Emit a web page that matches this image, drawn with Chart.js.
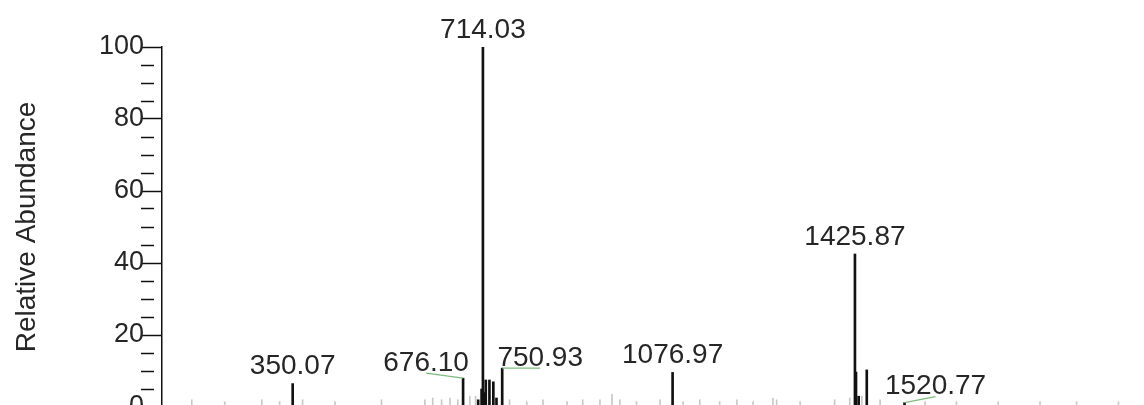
<!DOCTYPE html>
<html>
<head>
<meta charset="utf-8">
<script src="https://cdn.jsdelivr.net/npm/chart.js@4/dist/chart.umd.min.js"></script>
<style>
  html, body { margin: 0; padding: 0; background: #fff; overflow: hidden; width: 1144px; height: 405px; }
  canvas { display: block; }
</style>
</head>
<body>
<canvas id="spectrum" width="1160" height="440"></canvas>
<script>
// Resolved peaks: m/z and relative abundance (%)
const peakMz = [350.07, 676.10, 705.0, 711.5, 714.03, 716.0, 719.5, 726.5, 734.0, 740.0, 750.93,
                1076.97, 1425.87, 1427.9, 1433.0, 1448.5, 1520.77];
const peakAbundance = [6.5, 8.0, 2.0, 5.0, 100, 4.0, 7.5, 7.5, 7.0, 2.5, 10.8,
                       9.6, 42.5, 9.7, 3.0, 10.3, 1.2];

// Low-level baseline signal
const noiseMz = [157, 220, 291, 325, 369, 431, 520, 603, 618, 635, 651, 666, 689, 700, 765, 798,
                 829, 875, 905, 938, 961, 976, 1008, 1053, 1097, 1129, 1167, 1200, 1231, 1269,
                 1276, 1321, 1387, 1416, 1439, 1474, 1560, 1620, 1700, 1780, 1850, 1930];
const noiseAbundance = [2, 1.5, 2, 1.5, 2, 1.5, 2, 2, 2.5, 2, 2.5, 2, 3, 3, 2, 1.5,
                        2, 1.5, 2, 2, 3.5, 2, 1.5, 2, 1.5, 2, 1.5, 2, 1.5, 2.5,
                        2, 1.5, 2, 2.5, 3, 2, 1.5, 1.5, 1.5, 1.5, 1.5, 1.5];

// Peaks annotated with their m/z
const labelledMz = [350.07, 676.10, 714.03, 750.93, 1076.97, 1425.87, 1520.77];

// Labelled y-axis values (minor ticks every 5 %)
const yTicks = [0, 20, 40, 60, 80, 100];

// Label placement relative to the default spot above the peak tip
const labelPlacement = {
  '676.10':  { dx: -37, dy: 2, leader: true },
  '750.93':  { dx: 38,  dy: 7, leader: true },
  '1520.77': { dx: 31,  dy: 1, leader: true }
};

const FONT = '"Liberation Sans", Arial, Helvetica, sans-serif';
const TEXT = '#262626';

const peakLabels = {
  id: 'peakLabels',
  afterDatasetsDraw(chart) {
    const { ctx, scales: { x, y } } = chart;
    ctx.save();
    ctx.font = '28px ' + FONT;
    ctx.textAlign = 'center';
    ctx.textBaseline = 'middle';
    labelledMz.forEach(mz => {
      const i = peakMz.indexOf(mz);
      const px = x.getPixelForValue(mz);
      const py = y.getPixelForValue(peakAbundance[i]);
      const text = mz.toFixed(2);
      const p = labelPlacement[text] || { dx: 0, dy: 0 };
      const lx = px + p.dx;
      const ly = py - 17 + p.dy;
      if (p.leader) {
        ctx.strokeStyle = '#7dbb7d';
        ctx.lineWidth = 1.2;
        ctx.beginPath();
        ctx.moveTo(px, py);
        ctx.lineTo(lx, ly + 10);
        ctx.stroke();
      }
      ctx.fillStyle = TEXT;
      ctx.fillText(text, lx, ly);
    });
    ctx.restore();
  }
};

new Chart(document.getElementById('spectrum'), {
  type: 'bar',
  data: {
    datasets: [
      {
        data: peakMz.map((m, i) => ({ x: m, y: peakAbundance[i] })),
        backgroundColor: '#111',
        barThickness: 2
      },
      {
        data: noiseMz.map((m, i) => ({ x: m, y: noiseAbundance[i] })),
        backgroundColor: '#c8c8c8',
        barThickness: 1
      }
    ]
  },
  options: {
    responsive: false,
    animation: false,
    devicePixelRatio: 1,
    layout: { padding: { top: 47, bottom: 33, left: 0, right: 5 } },
    plugins: { legend: { display: false }, tooltip: { enabled: false } },
    datasets: { bar: { grouped: false, borderWidth: 0 } },
    scales: {
      x: { type: 'linear', min: 100, max: 2000, offset: false, display: false },
      y: {
        min: 0,
        max: 100,
        afterFit(scale) { scale.width = 162; },
        ticks: {
          stepSize: 5,
          autoSkip: false,
          padding: -3,
          color: TEXT,
          font: { family: FONT, size: 27 },
          callback: v => yTicks.includes(v) ? String(v) : ''
        },
        grid: {
          drawOnChartArea: false,
          tickLength: 21,
          tickColor: '#111',
          tickWidth: 1.5,
          tickBorderDash: c => (c.tick && yTicks.includes(c.tick.value)) ? [] : [13, 40]
        },
        border: { display: true, color: '#111', width: 1.5 },
        title: {
          display: true,
          text: 'Relative Abundance',
          color: TEXT,
          font: { family: FONT, size: 28 },
          padding: { top: 10, bottom: 0 }
        }
      }
    }
  },
  plugins: [peakLabels]
});
</script>
</body>
</html>
